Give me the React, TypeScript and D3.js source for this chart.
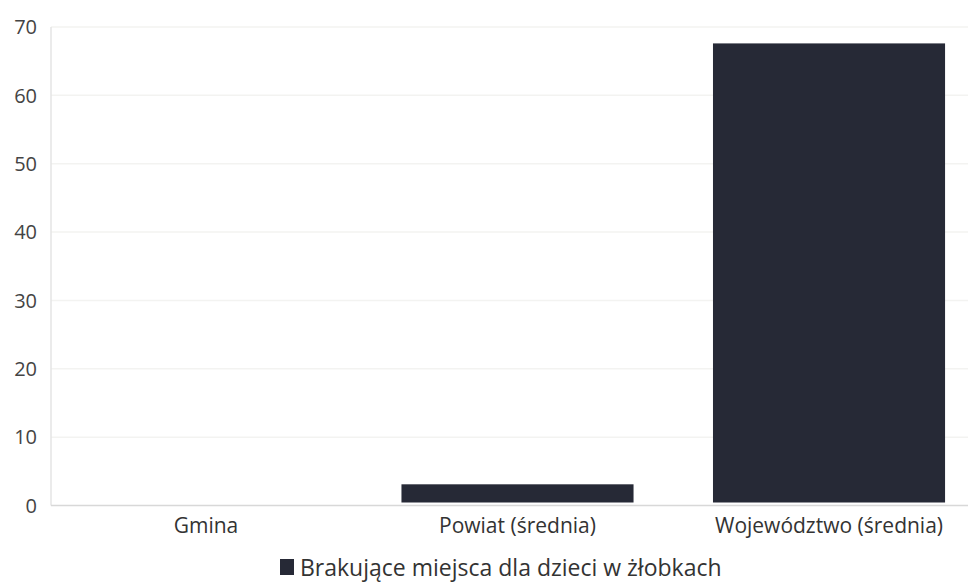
import React from 'react';
import * as d3 from 'd3';

const categories = ['Gmina', 'Powiat (średnia)', 'Województwo (średnia)'];
const values = [0, 3.1, 67.6];
const yTicks = [0, 10, 20, 30, 40, 50, 60, 70];
const seriesName = 'Brakujące miejsca dla dzieci w żłobkach';

const App = () => {
  const width = 971;
  const height = 582;
  const left = 51;
  const top = 27;
  const bottom = 505.5;

  const x = d3.scaleBand<string>()
    .domain(categories)
    .range([left, 984])
    .paddingInner(0.255)
    .paddingOuter(0.125);

  const y = d3.scaleLinear().domain([0, 70]).range([bottom, top]);

  const font = "'Open Sans', 'DejaVu Sans', sans-serif";

  return (
    <svg width={width} height={height} style={{ position: 'absolute', left: 0, top: 0, background: '#fff' }}>
      <rect width={width} height={height} fill="#fff" />
      {/* grid */}
      {yTicks.filter(t => t > 0).map(t => (
        <line key={t} x1={left} x2={968} y1={y(t)} y2={y(t)} stroke="#f3f3f1" strokeWidth={1.5} />
      ))}
      {/* axes */}
      <line x1={left} x2={left} y1={top} y2={bottom} stroke="#e4e4e4" strokeWidth={1.5} />
      <line x1={left} x2={968} y1={bottom} y2={bottom} stroke="#d8d8d8" strokeWidth={1.5} />
      {yTicks.map(t => (
        <text key={t} x={37} y={y(t)} dy="0.36em" textAnchor="end" fontFamily={font} fontSize={20} fill="#444">
          {t}
        </text>
      ))}
      {/* bars */}
      {categories.map((c, i) => (
        values[i] > 0 ? (
          <rect key={c} x={x(c)} y={y(values[i])} width={x.bandwidth()} height={y(0) - y(values[i]) - 3}
            fill="#262936" />
        ) : null
      ))}
      {categories.map(c => (
        <text key={c} x={(x(c) ?? 0) + x.bandwidth() / 2} y={533} textAnchor="middle" fontFamily={font}
          fontSize={21} fill="#333">
          {c}
        </text>
      ))}
      {/* legend */}
      <rect x={280} y={559} width={14} height={16} fill="#262936" />
      <text x={300} y={576} fontFamily={font} fontSize={23} fill="#333">{seriesName}</text>
    </svg>
  );
};

export default App;
